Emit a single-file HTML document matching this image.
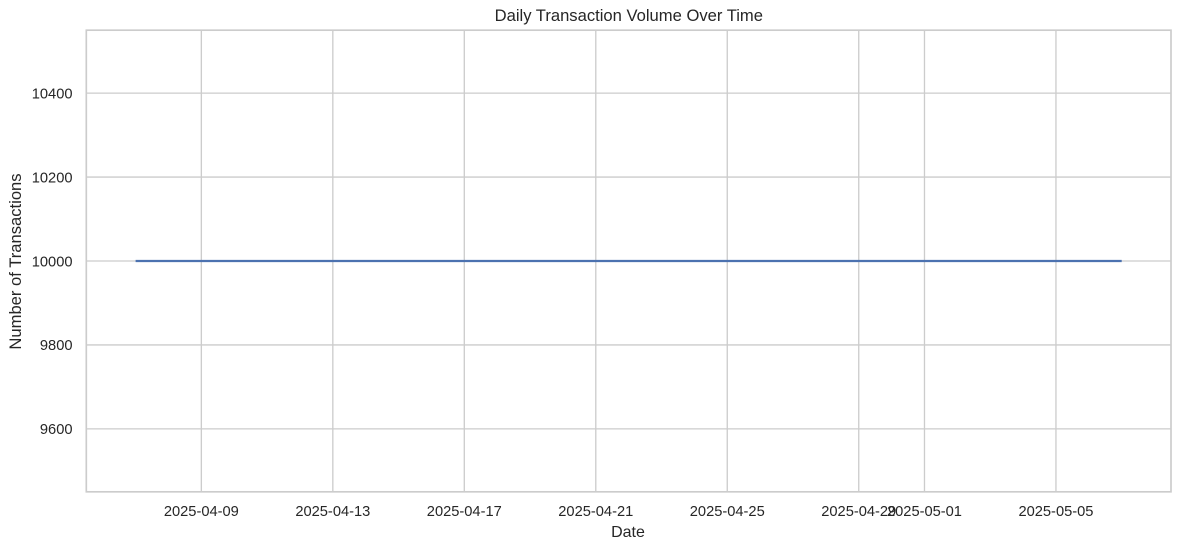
<!DOCTYPE html>
<html>
<head>
<meta charset="utf-8">
<title>Daily Transaction Volume Over Time</title>
<style>
html,body{margin:0;padding:0;background:#fff;width:1181px;height:550px;overflow:hidden}
svg{display:block}
text{font-family:"Liberation Sans",Arial,sans-serif;fill:#262626}
</style>
</head>
<body>
<svg id="chart" xmlns="http://www.w3.org/2000/svg" width="1181" height="550" viewBox="0 0 1181 550">
  <rect x="0" y="0" width="1181" height="550" fill="#ffffff"/>
  <g id="grid"></g>
  <polyline id="series" fill="none" stroke="#4c72b0" stroke-width="2.3" stroke-linecap="butt" stroke-linejoin="round"/>
  <g id="spines"></g>
  <g id="xticks"></g>
  <g id="yticks"></g>
  <text x="628.8" y="21" font-size="16.6" text-anchor="middle">Daily Transaction Volume Over Time</text>
  <text x="628" y="537" font-size="16" text-anchor="middle">Date</text>
  <text x="0" y="0" font-size="16.6" text-anchor="middle" transform="translate(21 261.5) rotate(-90)">Number of Transactions</text>
</svg>
<script>
const dates = ["2025-04-07","2025-04-08","2025-04-09","2025-04-10","2025-04-11","2025-04-12","2025-04-13","2025-04-14","2025-04-15","2025-04-16","2025-04-17","2025-04-18","2025-04-19","2025-04-20","2025-04-21","2025-04-22","2025-04-23","2025-04-24","2025-04-25","2025-04-26","2025-04-27","2025-04-28","2025-04-29","2025-04-30","2025-05-01","2025-05-02","2025-05-03","2025-05-04","2025-05-05","2025-05-06","2025-05-07"];
const transactions = [10000,10000,10000,10000,10000,10000,10000,10000,10000,10000,10000,10000,10000,10000,10000,10000,10000,10000,10000,10000,10000,10000,10000,10000,10000,10000,10000,10000,10000,10000,10000];
const xTickLabels = ["2025-04-09","2025-04-13","2025-04-17","2025-04-21","2025-04-25","2025-04-29","2025-05-01","2025-05-05"];
const yTickLabels = [9600,9800,10000,10200,10400];

const NS = "http://www.w3.org/2000/svg";
const plot = {left: 86.3, right: 1171, top: 30.2, bottom: 491.8};
const DAY = 86400000;
const toTime = d => Date.parse(d + "T00:00:00Z");
const times = dates.map(toTime);
const tMin = Math.min(...times), tMax = Math.max(...times);
const tPad = Math.max((tMax - tMin) * 0.05, DAY);
const vMin0 = Math.min(...transactions), vMax0 = Math.max(...transactions);
const vExpand = vMin0 === vMax0 ? Math.abs(vMin0) * 0.05 : 0;
const vLo = vMin0 - vExpand, vHi = vMax0 + vExpand;
const vPad = (vHi - vLo) * 0.05;

function xScale(t) {
  const a = tMin - tPad, b = tMax + tPad;
  return plot.left + (t - a) / (b - a) * (plot.right - plot.left);
}
function yScale(v) {
  const a = vLo - vPad, b = vHi + vPad;
  return plot.bottom - (v - a) / (b - a) * (plot.bottom - plot.top);
}
function make(tag, attrs, parent) {
  const el = document.createElementNS(NS, tag);
  for (const k in attrs) el.setAttribute(k, attrs[k]);
  parent.appendChild(el);
  return el;
}

const grid = document.getElementById("grid");
const xticks = document.getElementById("xticks");
const yticks = document.getElementById("yticks");
const spines = document.getElementById("spines");

xTickLabels.forEach(label => {
  const x = xScale(toTime(label));
  const line = make("line", {x1: x, x2: x, y1: plot.top, y2: plot.bottom, stroke: "#cccccc", "stroke-width": 1.33}, grid);
  
  
  const text = make("text", {x: x, y: 516, "font-size": 14.67, "text-anchor": "middle"}, xticks);
  text.textContent = label;
  
  
});

yTickLabels.forEach(label => {
  const y = yScale(label);
  const line = make("line", {x1: plot.left, x2: plot.right, y1: y, y2: y, stroke: "#cccccc", "stroke-width": 1.33}, grid);
  
  
  const text = make("text", {x: 72.5, y: y + 5.3, "font-size": 14.67, "text-anchor": "end"}, yticks);
  text.textContent = String(label);
  
  
});

document.getElementById("series").setAttribute("points",
  times.map((t, i) => xScale(t).toFixed(2) + "," + yScale(transactions[i]).toFixed(2)).join(" "));

const frame = make("rect", {x: plot.left, y: plot.top, width: plot.right - plot.left, height: plot.bottom - plot.top, fill: "none", stroke: "#cccccc", "stroke-width": 1.67}, spines);


</script>
</body>
</html>
